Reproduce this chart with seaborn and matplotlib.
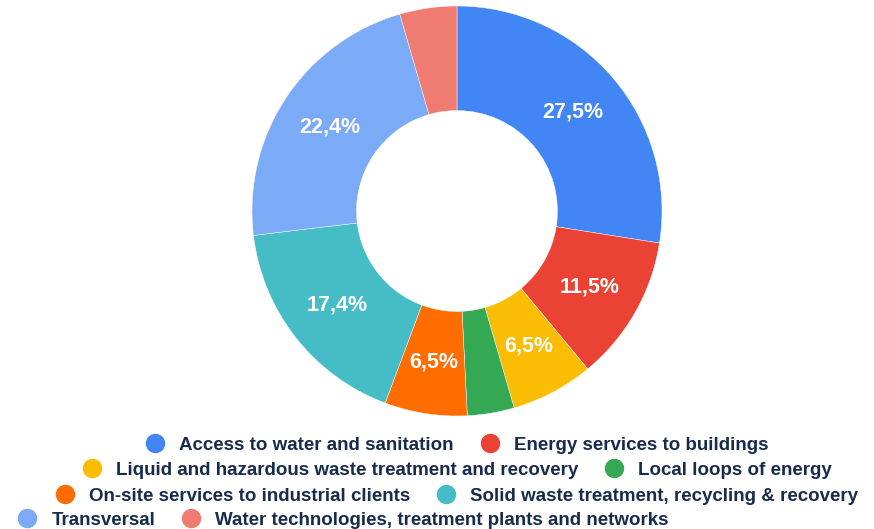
import matplotlib.pyplot as plt
from matplotlib.lines import Line2D
import seaborn as sns

categories = [
    "Access to water and sanitation",
    "Energy services to buildings",
    "Liquid and hazardous waste treatment and recovery",
    "Local loops of energy",
    "On-site services to industrial clients",
    "Solid waste treatment, recycling & recovery",
    "Transversal",
    "Water technologies, treatment plants and networks",
]
shares = [27.5, 11.5, 6.5, 3.7, 6.5, 17.4, 22.4, 4.5]
colors = ["#4285F4", "#EA4335", "#FBBC04", "#34A853",
          "#FF6D01", "#46BDC6", "#7BAAF7", "#F07B72"]

sns.set_theme(style="white")
plt.rcParams["font.family"] = ["Liberation Sans", "DejaVu Sans"]

fig = plt.figure(figsize=(8.74, 5.29), dpi=100)
ax = fig.add_axes([(457 - 205) / 874, 1 - (211 + 205) / 529, 410 / 874, 410 / 529])


def fmt(p):
    return f"{p:.1f}".replace(".", ",") + "%" if p >= 5 else ""


wedges, texts, autotexts = ax.pie(
    shares, colors=colors, startangle=90, counterclock=False,
    autopct=fmt, pctdistance=0.746,
    wedgeprops=dict(width=0.51, edgecolor="white", linewidth=0.3),
    textprops=dict(color="white", fontsize=15.5, fontweight="bold"),
)
ax.set_xlim(-1, 1)
ax.set_ylim(-1, 1)
ax.set_aspect("equal")
ax.axis("off")

# legend rows: first three centred under the donut, last one flush left
text_color = "#172b4d"
rows = [(0, 1), (2, 3), (4, 5), (6, 7)]
row_y = [445, 470, 496, 520]
for k, ((a, b), y) in enumerate(zip(rows, row_y)):
    handles = [Line2D([], [], marker="o", linestyle="", markersize=13,
                      markerfacecolor=colors[i], markeredgecolor=colors[i])
               for i in (a, b)]
    if k < 3:
        loc, anchor = "center", (457 / 874, 1 - y / 529)
    else:
        loc, anchor = "center left", (18 / 874, 1 - y / 529)
    fig.legend(handles, [categories[a], categories[b]], loc=loc,
               bbox_to_anchor=anchor, ncol=2, frameon=False,
               handlelength=1.0, handletextpad=0.78, columnspacing=1.4,
               borderpad=0, borderaxespad=0, labelcolor=text_color,
               prop=dict(size=13.5, weight="bold"))

fig.savefig("out.png", dpi=100, facecolor="white")
